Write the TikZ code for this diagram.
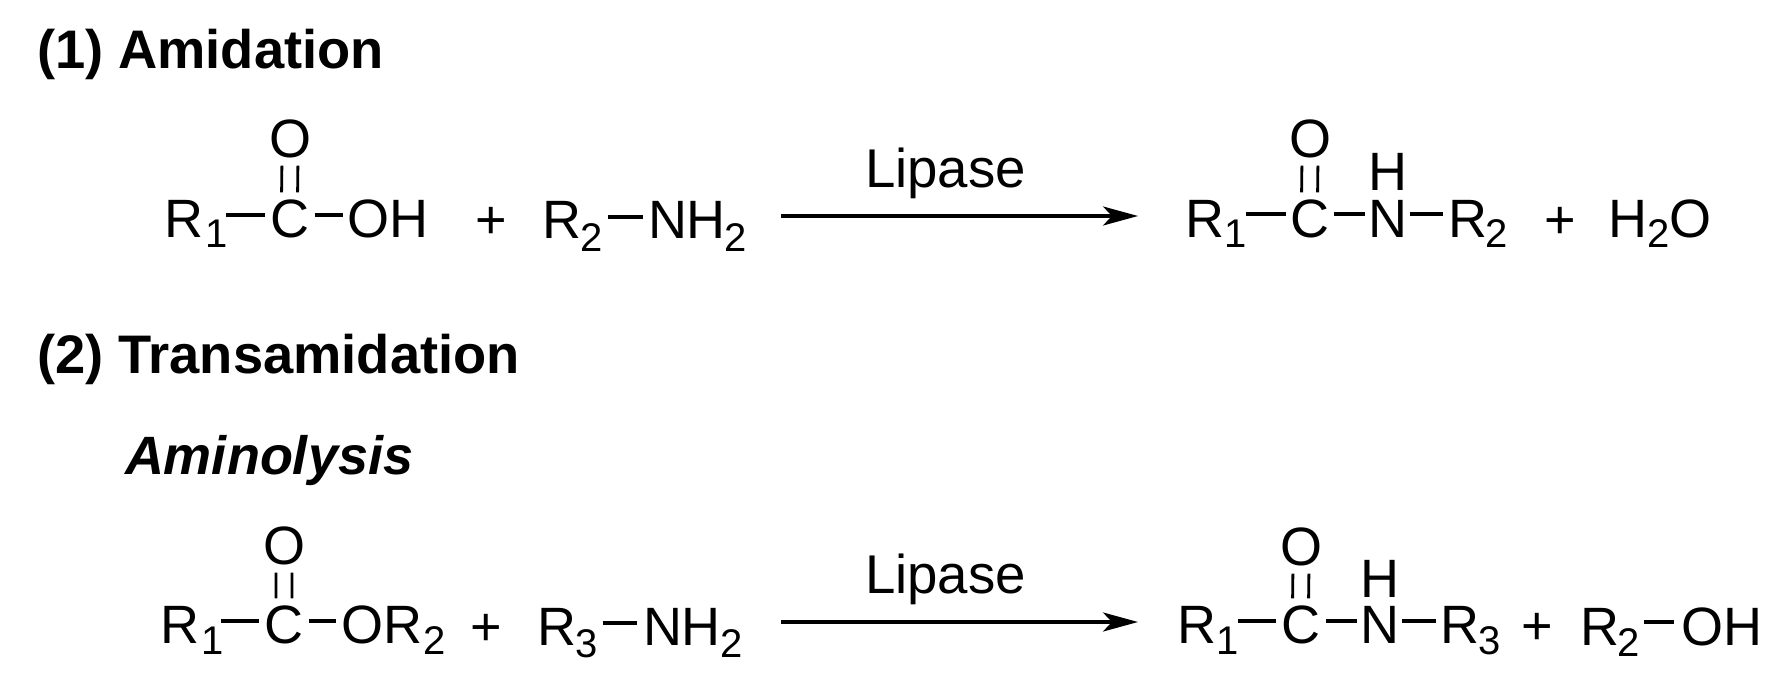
\documentclass[tikz,border=0pt]{standalone}
\usepackage{fontspec}
\setmainfont{Liberation Sans}
\usetikzlibrary{arrows.meta}
\tikzset{
  lab/.style={anchor=base west,inner sep=0pt,outer sep=0pt,font=\fontsize{54}{60}\selectfont},
  lipase/.style={lab,font=\fontsize{54.6}{60}\selectfont},
  sb/.style={lab,font=\fontsize{40}{44}\selectfont},
  head/.style={lab,font=\fontsize{54.3}{60}\selectfont\bfseries},
  headit/.style={lab,font=\fontsize{54}{60}\selectfont\bfseries\itshape},
  bond/.style={line width=3.8pt,black},
  dbond/.style={line width=2.8pt,black},
  rxn/.style={line width=3.4pt,black,-{Stealth[length=35pt,width=19pt,inset=9pt]}}
}
\newcommand\bondline[5]{\draw[bond] ([xshift=#4pt]#1.east |- 0,#3) -- ([xshift=-#5pt]#2.west |- 0,#3);}
\newcommand\dblbond[4]{%
  \draw[dbond,shorten <=#3pt,shorten >=#4pt] ([xshift=-8pt]#1.south) -- ([xshift=-8pt]#2.north);
  \draw[dbond,shorten <=#3pt,shorten >=#4pt] ([xshift=8pt]#1.south) -- ([xshift=8pt]#2.north);}
\begin{document}
\begin{tikzpicture}[x=1pt,y=-1pt]
\useasboundingbox (0,0) rectangle (1785,685);
% headings
\node[head] (h1) at (37,68) {(1) Amidation};
\node[head] (h2) at (37,373) {(2) Transamidation};
\node[headit] (h3) at (125,474) {Aminolysis};
% row 1, reactants
\node[lab] (aO) at (269,157) {O};
\node[lab] (aR) at (164,237) {R};
\node[sb] (aRs) at (205,247) {1};
\node[lab] (aC) at (270,237) {C};
\node[lab] (aOH) at (347,237) {OH};
\node[lab] (aP) at (475,238) {+};
\node[lab] (bR) at (542,238) {R};
\node[sb] (bRs) at (580,251) {2};
\node[lab] (bN) at (648,238) {NH};
\node[sb] (bNs) at (724,251) {2};
\dblbond{aO}{aC}{8}{7}
\bondline{aRs}{aC}{215}{-1}{5}
\bondline{aC}{aOH}{215}{6}{4}
\bondline{bRs}{bN}{217}{6}{5}
% row 1, arrow
\coordinate (a1s) at (781,216);
\coordinate (a1e) at (1138,216);
\draw[rxn] (a1s) -- (a1e);
\node[lipase] (l1) at (865,187) {Lipase};
% row 1, products
\node[lab] (cO) at (1289,157) {O};
\node[lab] (cH) at (1368,190) {H};
\node[lab] (cR) at (1185,237) {R};
\node[sb] (cRs) at (1224,247) {1};
\node[lab] (cC) at (1290,237) {C};
\node[lab] (cN) at (1368,237) {N};
\node[lab] (dR) at (1448,237) {R};
\node[sb] (dRs) at (1485,247) {2};
\node[lab] (dP) at (1544,238) {+};
\node[lab] (wH) at (1608,237) {H};
\node[sb] (wHs) at (1647,247) {2};
\node[lab] (wO) at (1669,237) {O};
\dblbond{cO}{cC}{8}{7}
\bondline{cRs}{cC}{214}{0}{4}
\bondline{cC}{cN}{214}{5}{3}
\bondline{cN}{dR}{214}{3}{5}
% row 2, reactants
\node[lab] (eO) at (263,564) {O};
\node[lab] (eR) at (160,643) {R};
\node[sb] (eRs) at (201,654) {1};
\node[lab] (eC) at (264.5,643) {C};
\node[lab] (eOR) at (341,643) {OR};
\node[sb] (eORs) at (423,654) {2};
\node[lab] (eP) at (470,645) {+};
\node[lab] (fR) at (537,645) {R};
\node[sb] (fRs) at (575,657) {3};
\node[lab] (fN) at (643,645) {NH};
\node[sb] (fNs) at (720,657) {2};
\dblbond{eO}{eC}{8}{7}
\bondline{eRs}{eC}{621}{-2}{5.5}
\bondline{eC}{eOR}{621}{5.5}{5}
\bondline{fRs}{fN}{623}{6}{6}
% row 2, arrow
\coordinate (a2s) at (781,622);
\coordinate (a2e) at (1138,622);
\draw[rxn] (a2s) -- (a2e);
\node[lipase] (l2) at (865,593) {Lipase};
% row 2, products
\node[lab] (gO) at (1280,565) {O};
\node[lab] (gH) at (1360.5,597) {H};
\node[lab] (gR) at (1177,643) {R};
\node[sb] (gRs) at (1216,654) {1};
\node[lab] (gC) at (1281,643) {C};
\node[lab] (gN) at (1360.5,643) {N};
\node[lab] (hR) at (1440,643) {R};
\node[sb] (hRs) at (1478,654) {3};
\node[lab] (gP) at (1521,644) {+};
\node[lab] (iR) at (1580,645) {R};
\node[sb] (iRs) at (1617,656) {2};
\node[lab] (iOH) at (1681,645) {OH};
\dblbond{gO}{gC}{8}{7}
\bondline{gRs}{gC}{621}{0}{5}
\bondline{gC}{gN}{621}{6}{3.5}
\bondline{gN}{hR}{621}{2.5}{4}
\bondline{iRs}{iOH}{622}{5}{7}
\end{tikzpicture}
\end{document}
